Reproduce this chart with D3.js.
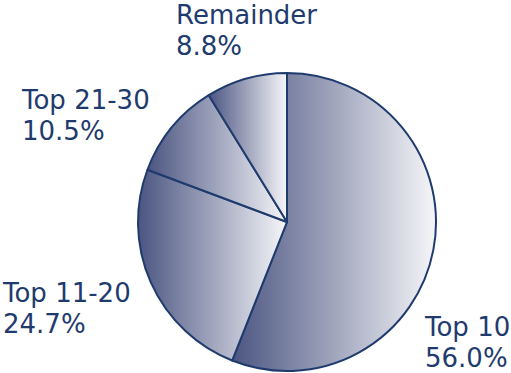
<!DOCTYPE html>
<html>
<head>
<meta charset="utf-8">
<script src="https://cdn.jsdelivr.net/npm/d3@7"></script>
<style>
  html, body { margin: 0; padding: 0; background: #fff; }
  svg { display: block; }
</style>
</head>
<body>
<svg id="chart" width="511" height="373"></svg>
<script>
// Share of total by rank group
const categories = ["Top 10", "Top 11-20", "Top 21-30", "Remainder"];
const shares = [56.0, 24.7, 10.5, 8.8];
const valueLabels = ["56.0%", "24.7%", "10.5%", "8.8%"];

// Label anchors (left edge, first baseline) relative to the pie centre
const labelOffsets = [[138, 114], [-284, 80], [-265, -113], [-111, -198]];

const cx = 287, cy = 222, radius = 149;
const ink = "#1f3b6e";
const lineGap = 30.5;

const svg = d3.select("#chart");
const defs = svg.append("defs");

const grad = defs.append("linearGradient")
  .attr("id", "sliceFill")
  .attr("x1", "0%").attr("y1", "0%")
  .attr("x2", "100%").attr("y2", "0%");
grad.append("stop").attr("offset", "0%").attr("stop-color", "#4b5581");
grad.append("stop").attr("offset", "100%").attr("stop-color", "#f6f6f9");

const pie = d3.pie().sort(null).value(d => d);
const arc = d3.arc().innerRadius(0).outerRadius(radius);

const g = svg.append("g").attr("transform", `translate(${cx},${cy})`);

g.selectAll("path.slice")
  .data(pie(shares))
  .join("path")
  .attr("class", "slice")
  .attr("d", arc)
  .attr("fill", "url(#sliceFill)")
  .attr("stroke", ink)
  .attr("stroke-width", 2)
  .attr("stroke-linejoin", "round");

const labels = g.selectAll("text.label")
  .data(categories)
  .join("text")
  .attr("class", "label")
  .attr("x", (d, i) => labelOffsets[i][0])
  .attr("y", (d, i) => labelOffsets[i][1])
  .attr("font-family", "DejaVu Sans, Verdana, sans-serif")
  .attr("font-size", 26)
  .attr("fill", ink);

labels.append("tspan")
  .attr("x", (d, i) => labelOffsets[i][0])
  .text(d => d);
labels.append("tspan")
  .attr("x", (d, i) => labelOffsets[i][0])
  .attr("dy", lineGap)
  .text((d, i) => valueLabels[i]);
</script>
</body>
</html>
